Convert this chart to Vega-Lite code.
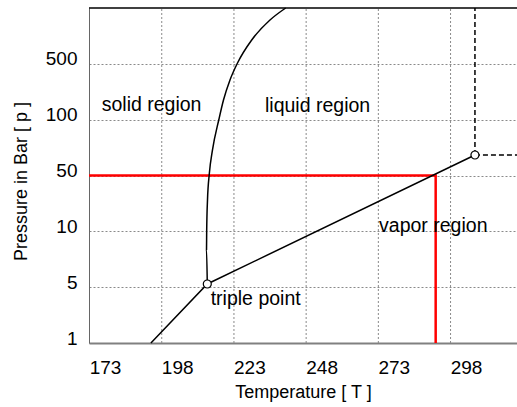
{
  "$schema": "https://vega.github.io/schema/vega-lite/v6.json",
  "width": 428,
  "height": 335,
  "autosize": {"type": "none"},
  "padding": {"left": 89, "top": 8, "right": 0, "bottom": 64},
  "config": {
    "view": {"stroke": null},
    "font": "Liberation Sans",
    "axis": {
      "labelFont": "Liberation Sans",
      "titleFont": "Liberation Sans",
      "labelFontSize": 19,
      "titleFontSize": 18,
      "titleFontWeight": "normal",
      "labelColor": "#000000",
      "titleColor": "#000000",
      "ticks": false,
      "tickSize": 0
    }
  },
  "datasets": {
    "vgrid": [
      {"T": 192.65, "P": 0, "P2": 6},
      {"T": 217.65, "P": 0, "P2": 6},
      {"T": 242.65, "P": 0, "P2": 6},
      {"T": 267.65, "P": 0, "P2": 6},
      {"T": 292.65, "P": 0, "P2": 6}
    ],
    "frame": [
      {"T": 167.46, "P": 6, "T2": 315.66, "P2": 6}
    ],
    "redline": [
      {"i": 0, "T": 167.46, "P": 3},
      {"i": 1, "T": 287.5, "P": 3},
      {"i": 2, "T": 287.5, "P": 0}
    ],
    "boundary": [
      {"i": 0, "T": 188.9, "P": 0},
      {"i": 1, "T": 208.42, "P": 1.057},
      {"i": 2, "T": 301.1, "P": 3.367}
    ],
    "melting": [
      {"i": 0, "T": 208.42, "P": 1.057},
      {"i": 1, "T": 208.15, "P": 1.666},
      {"i": 2, "T": 208.21, "P": 2.006},
      {"i": 3, "T": 208.49, "P": 2.561},
      {"i": 4, "T": 209.11, "P": 3.027},
      {"i": 5, "T": 210.22, "P": 3.457},
      {"i": 6, "T": 212.47, "P": 4.012},
      {"i": 7, "T": 214.03, "P": 4.352},
      {"i": 8, "T": 216.28, "P": 4.711},
      {"i": 9, "T": 218.88, "P": 5.015},
      {"i": 10, "T": 223.8, "P": 5.427},
      {"i": 11, "T": 230.13, "P": 5.785},
      {"i": 12, "T": 235.57, "P": 6.0}
    ],
    "critical": [
      {"T": 301.1, "P": 3.367, "T2": 301.1, "P2": 6},
      {"T": 301.1, "P": 3.367, "T2": 315.66, "P2": 3.367}
    ],
    "points": [
      {"T": 208.42, "P": 1.057},
      {"T": 301.1, "P": 3.367}
    ],
    "labels": [
      {"T": 171.86, "P": 4.263, "text": "solid region"},
      {"T": 228.4, "P": 4.245, "text": "liquid region"},
      {"T": 267.9, "P": 2.096, "text": "vapor region"},
      {"T": 209.6, "P": 0.783, "text": "triple point"}
    ]
  },
  "encoding": {
    "x": {
      "field": "T",
      "type": "quantitative",
      "scale": {"domain": [167.46, 315.66], "nice": false, "zero": false},
      "axis": {
        "title": "Temperature [ T ]",
        "values": [173, 198, 223, 248, 273, 298],
        "grid": false,
        "domainColor": "#808080",
        "domainWidth": 2,
        "labelPadding": 15,
        "titlePadding": 6
      }
    },
    "y": {
      "field": "P",
      "type": "quantitative",
      "scale": {"domain": [0, 6], "nice": false, "zero": false},
      "axis": {
        "title": "Pressure in Bar [ p ]",
        "values": [0, 1, 2, 3, 4, 5],
        "labelExpr": "['1', '5', '10', '50', '100', '500'][datum.value]",
        "grid": true,
        "gridColor": "#8a8a8a",
        "gridDash": [2, 2],
        "gridWidth": 1,
        "domainColor": "#666666",
        "domainWidth": 1,
        "labelPadding": 12,
        "labelOffset": -5,
        "titlePadding": 15,
        "titleY": 173
      }
    }
  },
  "layer": [
    {
      "data": {"name": "vgrid"},
      "mark": {"type": "rule", "color": "#8a8a8a", "strokeDash": [2, 2], "strokeWidth": 1},
      "encoding": {"y2": {"field": "P2"}}
    },
    {
      "data": {"name": "frame"},
      "mark": {"type": "rule", "color": "#000000", "strokeWidth": 1.5},
      "encoding": {"x2": {"field": "T2"}, "y2": {"field": "P2"}}
    },
    {
      "data": {"name": "redline"},
      "mark": {"type": "line", "color": "#ff0000", "strokeWidth": 2.5},
      "encoding": {"order": {"field": "i", "type": "quantitative"}}
    },
    {
      "data": {"name": "boundary"},
      "mark": {"type": "line", "color": "#000000", "strokeWidth": 1.5},
      "encoding": {"order": {"field": "i", "type": "quantitative"}}
    },
    {
      "data": {"name": "melting"},
      "mark": {"type": "line", "color": "#000000", "strokeWidth": 1.5, "interpolate": "monotone"},
      "encoding": {"order": {"field": "i", "type": "quantitative"}}
    },
    {
      "data": {"name": "critical"},
      "mark": {"type": "rule", "color": "#000000", "strokeWidth": 1.5, "strokeDash": [5, 3]},
      "encoding": {"x2": {"field": "T2"}, "y2": {"field": "P2"}}
    },
    {
      "data": {"name": "points"},
      "mark": {"type": "point", "filled": true, "fill": "#ffffff", "stroke": "#000000", "strokeWidth": 1.2, "size": 64, "opacity": 1}
    },
    {
      "data": {"name": "labels"},
      "mark": {"type": "text", "align": "left", "baseline": "middle", "fontSize": 19.5, "font": "Liberation Sans", "color": "#000000"},
      "encoding": {"text": {"field": "text"}}
    }
  ]
}
